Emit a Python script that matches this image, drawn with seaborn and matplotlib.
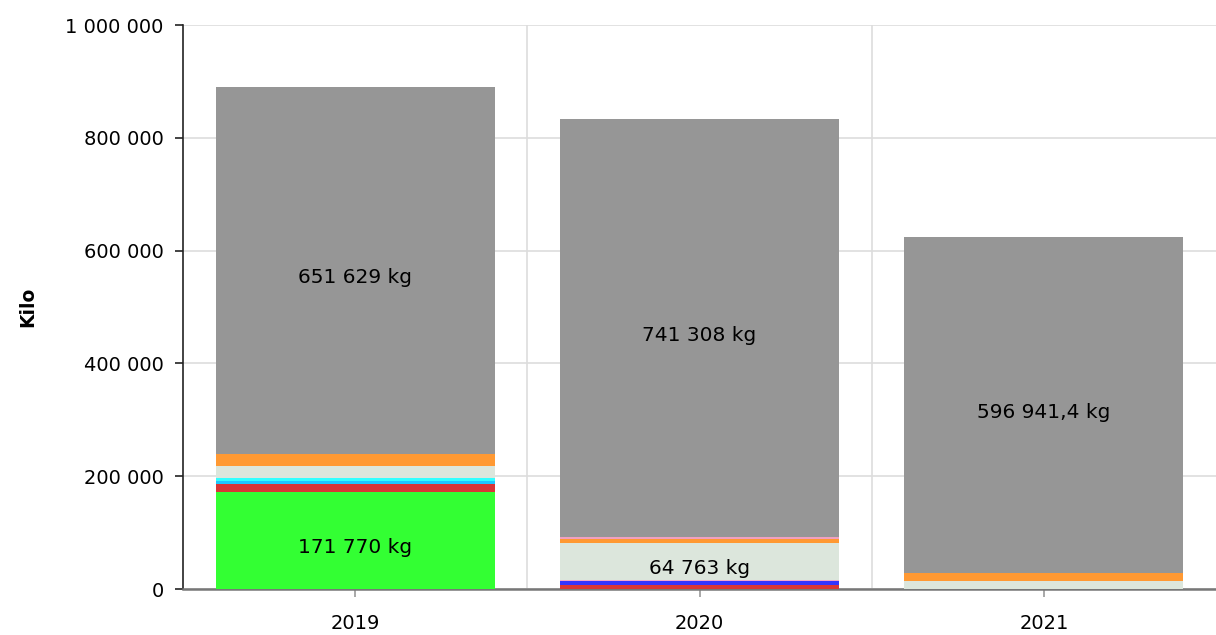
import pandas as pd
import matplotlib
matplotlib.use("Agg")
import matplotlib.pyplot as plt
import seaborn as sns

# Data (kg) per year, stacked from bottom to top
years = ["2019", "2020", "2021"]
layer_names = ["gron", "rod", "bla", "djupcyan", "cyan", "rosa", "ljusgra", "orange", "rosa2", "gra"]
layer_colors = ["#33ff33", "#d93636", "#3333ff", "#1ec8ff", "#33ffff", "#f4a6c8",
                "#dce6dc", "#ff9933", "#f0a0c0", "#969696"]
gron = [171770, 0, 0]
rod = [14700, 8000, 0]
bla = [0, 6000, 0]
djupcyan = [4800, 0, 0]
cyan = [4800, 0, 0]
rosa = [0, 2500, 0]
ljusgra = [22500, 64763, 14000]
orange = [20700, 7000, 14000]
rosa2 = [0, 4000, 0]
gra = [651629, 741308, 596941.4]
layers = [gron, rod, bla, djupcyan, cyan, rosa, ljusgra, orange, rosa2, gra]

# segments that carry a value label: (layer, year index, text)
etiketter = [(0, 0, "171 770 kg"), (6, 1, "64 763 kg"),
             (9, 0, "651 629 kg"), (9, 1, "741 308 kg"), (9, 2, "596 941,4 kg")]

rows = []
for name, vals in zip(layer_names, layers):
    for y, v in zip(years, vals):
        rows.append({"year": y, "layer": name, "kg": v})
df = pd.DataFrame(rows)
df["top"] = df.groupby("year")["kg"].cumsum()
df["bottom"] = df["top"] - df["kg"]

sns.set_theme(style="white")
plt.rcParams["font.family"] = ["DejaVu Sans"]

fig = plt.figure(figsize=(12.16, 6.35), dpi=100)
ax = fig.add_axes([0.1505, 0.0724, 0.8495, 0.8882])

# draw cumulative totals from top layer down so lower layers paint over
for name, color in reversed(list(zip(layer_names, layer_colors))):
    sub = df[df["layer"] == name]
    sns.barplot(data=sub, x="year", y="top", order=years, color=color,
                width=0.81, linewidth=0, saturation=1, ax=ax, zorder=3)

for li, yi, txt in etiketter:
    r = df[(df["layer"] == layer_names[li]) & (df["year"] == years[yi])].iloc[0]
    ax.text(yi, (r["top"] + r["bottom"]) / 2 + 4000, txt, ha="center", va="top",
            fontsize=14.5, color="black", zorder=5)

ax.set_ylim(0, 1000000)
ax.set_xlim(-0.5, 2.5)
ax.set_yticks(range(0, 1000001, 200000))
ax.set_yticklabels([f"{v:,}".replace(",", " ") for v in range(0, 1000001, 200000)])
ax.set_xlabel("")
ax.set_ylabel("Kilo", fontsize=13.5, fontweight="bold", color="black", labelpad=20)

ax.grid(axis="y", color="#dddddd", linewidth=1.2, zorder=0)
for xb in [0.5, 1.5]:
    ax.axvline(xb, color="#dddddd", linewidth=1.2, zorder=0)

for s in ["top", "right"]:
    ax.spines[s].set_visible(False)
ax.spines["left"].set_color("#222222")
ax.spines["left"].set_linewidth(1.2)
ax.spines["bottom"].set_color("#777777")
ax.spines["bottom"].set_linewidth(1.8)
ax.tick_params(axis="y", left=True, length=6, width=1.2, color="#222222",
               labelsize=14, pad=8, labelcolor="black")
ax.tick_params(axis="x", bottom=True, length=6, width=1.2, color="#999999",
               labelsize=14, pad=12, labelcolor="black")

plt.savefig("out.png", dpi=100)
